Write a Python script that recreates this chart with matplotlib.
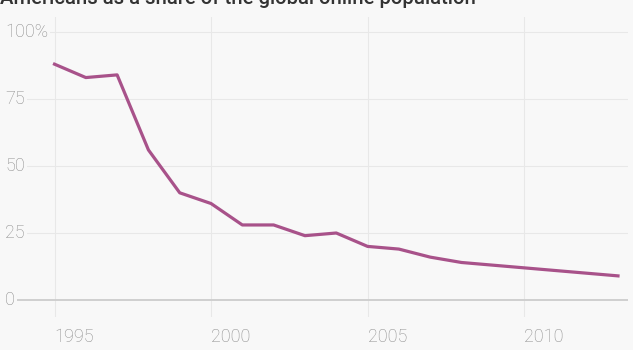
import matplotlib
matplotlib.use("Agg")
import matplotlib.pyplot as plt

# Americans as a share of the global online population (%)
years = list(range(1995, 2014))
share = [88, 83, 84, 56, 40, 36, 28, 28, 24, 25, 20, 19, 16, 14, 13, 12, 11, 10, 9]
x_ticks = [1995, 2000, 2005, 2010]
y_ticks = [0, 25, 50, 75, 100]
y_labels = ["0", "25", "50", "75", "100%"]
title = "Americans as a share of the global online population"

BG = "#f8f8f8"
GRID = "#e8e8e8"
LABEL = "#8c8c8c"
LINE = "#a8528a"
W, H = 633, 350

plt.rcParams["font.family"] = ["Roboto", "DejaVu Sans"]

fig = plt.figure(figsize=(W / 100, H / 100), dpi=100, facecolor=BG)
# axes box in pixels: left 5, right 628, top 17, bottom 317
ax = fig.add_axes([5 / W, 1 - 317 / H, 623 / W, 300 / H], facecolor=BG)

px_per_year = 31.3
ax.set_xlim(1995 - 49.5 / px_per_year, 2013 + 10 / px_per_year)
ax.set_ylim(-17 / 2.68, 100 + 15 / 2.68)

for s in ax.spines.values():
    s.set_visible(False)

# vertical gridlines
for yr in x_ticks:
    ax.axvline(yr, color=GRID, lw=0.8, zorder=0)

# horizontal gridlines, labels sit on top of them
for v, lab in zip(y_ticks, y_labels):
    ax.axhline(v, color="#cfcfcf" if v == 0 else GRID, lw=1.4 if v == 0 else 0.8, zorder=0)
    ax.text(ax.get_xlim()[0], v, lab, ha="left", va="center", fontsize=13,
            color=LABEL, fontweight="light",
            bbox=dict(facecolor=BG, edgecolor="none", pad=1.5), zorder=1)

ax.plot(years, share, color=LINE, lw=2.3, solid_joinstyle="round", zorder=3)

ax.set_yticks([])
ax.set_xticks(x_ticks)
ax.set_xticklabels([str(t) for t in x_ticks], ha="left", fontsize=13,
                   color=LABEL, fontweight="light")
ax.tick_params(axis="x", length=0, pad=8)

fig.text(0.0, 1 - 4 / H, title, ha="left", va="baseline", fontsize=14.6,
         fontweight="medium", color="#333333")

fig.savefig("out.png", dpi=100, facecolor=BG)
